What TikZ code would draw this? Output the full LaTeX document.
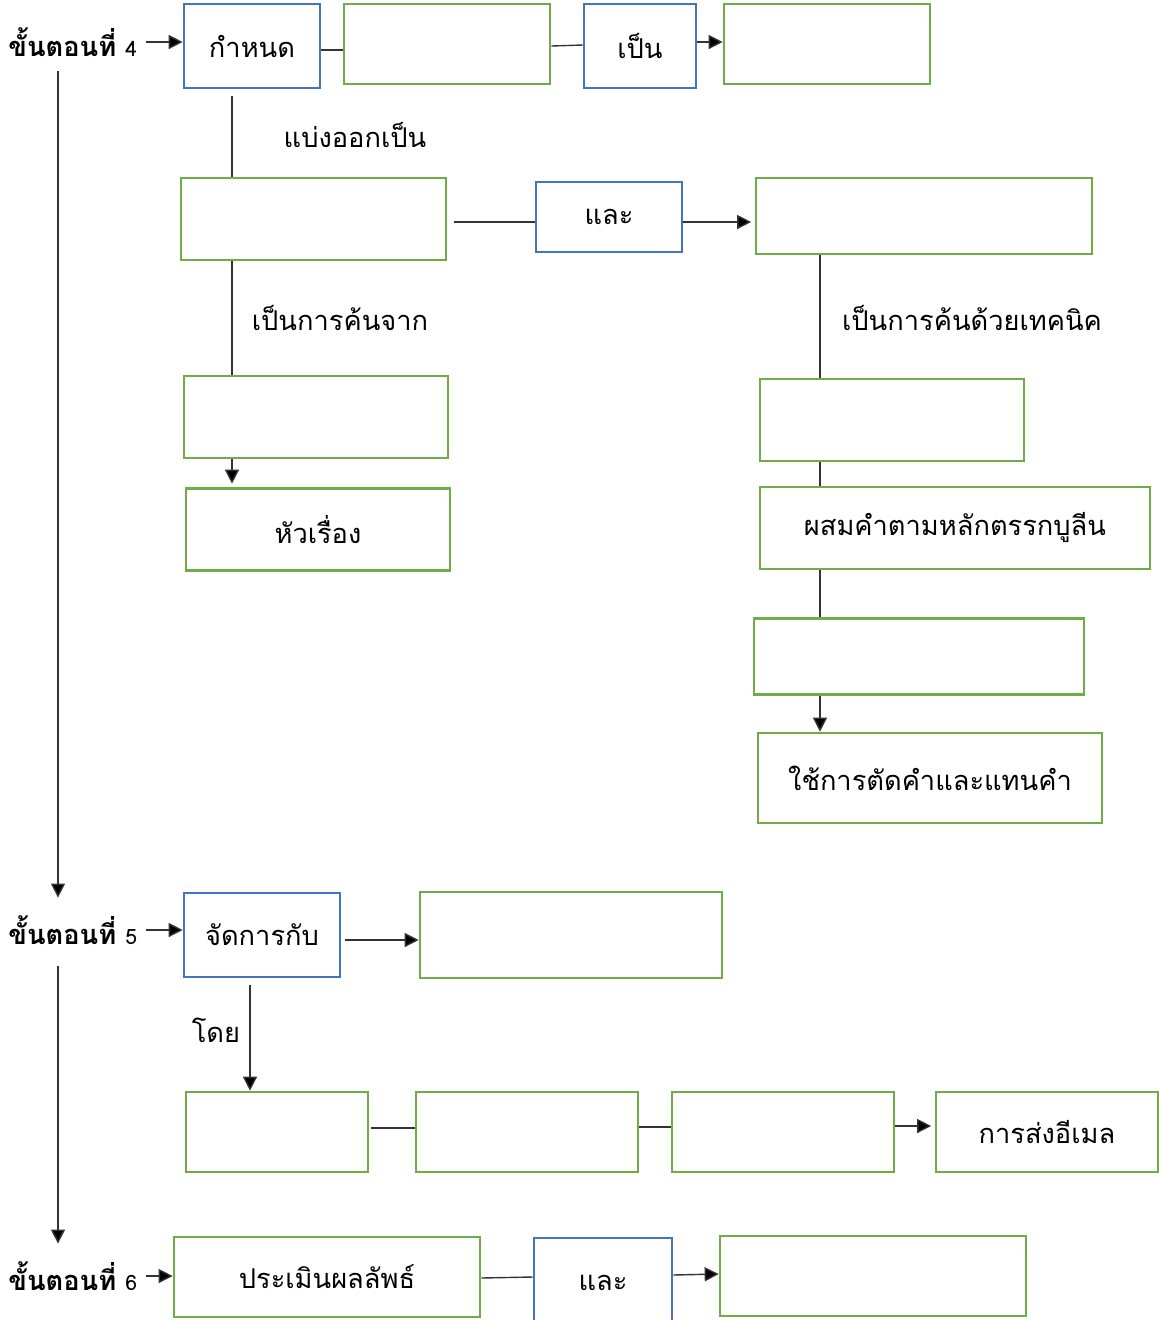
\documentclass[tikz,border=0pt]{standalone}
\usepackage{fontspec}
\usepackage{tikz}
\usetikzlibrary{arrows.meta}
\newfontfamily\thaifont[Script=Thai]{Loma}
\definecolor{boxblue}{HTML}{4472C4}
\definecolor{boxgreen}{HTML}{70AD47}
\tikzset{
  bbox/.style 2 args={draw=boxblue,line width=1.5pt,minimum width=#1*0.02cm,minimum height=#2*0.02cm,inner sep=0pt},
  gbox/.style 2 args={draw=boxgreen,line width=1.5pt,minimum width=#1*0.02cm,minimum height=#2*0.02cm,inner sep=0pt},
  conn/.style={line width=0.8pt,black!80},
  arr/.style={line width=0.8pt,black!80,-{Triangle[length=8pt,width=8pt,fill=black]}},
  lbl/.style={inner sep=0pt}
}
\begin{document}
\begin{tikzpicture}[x=0.02cm,y=-0.02cm,font=\thaifont\fontsize{15.5}{18}\selectfont]
\useasboundingbox (0,0) rectangle (1159,1320);

% columns for the vertical lines
\coordinate (colL) at (58,0);
\coordinate (colA) at (232,0);
\coordinate (colB) at (820,0);
\coordinate (colC) at (250,0);

% step 4
\node[lbl,anchor=west] (s4) at (8,42) {\textbf{ขั้นตอนที่} {\fontsize{12}{14}\selectfont 4}};
\node[bbox={136}{84}] (kamnot) at (252,46) {กำหนด};
\node[gbox={206}{80}] (g1) at (447,44) {};
\node[bbox={112}{84}] (pen) at (640,46) {เป็น};
\node[gbox={206}{80}] (g2) at (827,44) {};

\draw[arr] ([xshift=5pt]s4.east) -- (kamnot.west |- s4.east);
\draw[conn] (kamnot.east |- 0,50) -- (g1.west |- 0,50);
\draw[conn] (g1.east |- 0,46) -- (pen.west |- 0,45);
\draw[arr] (pen.east |- 0,42) -- (g2.west |- 0,42);

\node[gbox={265}{82}] (g3) at (313.5,219) {};
\node[bbox={146}{70}] (lae1) at (609,217) {และ};
\node[gbox={336}{76}] (g4) at (924,216) {};
\draw[conn] ([yshift=-4pt]kamnot.south -| colA) -- (g3.north -| colA);
\node at (355,135) {แบ่งออกเป็น};
\draw[conn] ([xshift=4pt]g3.east |- 0,222) -- (lae1.west |- 0,222);
\draw[arr] (lae1.east |- 0,222) -- ([xshift=-2pt]g4.west |- 0,222);

% left branch
\node[gbox={264}{82}] (g5) at (316,417) {};
\node[gbox={264}{82}] (huarueang) at (318,529.5) {หัวเรื่อง};
\draw[conn] (g3.south -| colA) -- (g5.north -| colA);
\node at (340,318) {เป็นการค้นจาก};
\draw[arr] (g5.south -| colA) -- ([yshift=2pt]huarueang.north -| colA);

% right branch
\node[gbox={264}{82}] (g6) at (892,420) {};
\node[gbox={390}{82}] (phasom) at (955,528) {ผสมคำตามหลักตรรกบูลีน};
\node[gbox={330}{76}] (g7) at (919,656.5) {};
\node[gbox={344}{90}] (chai) at (930,778) {ใช้การตัดคำและแทนคำ};
\draw[conn] (g4.south -| colB) -- (g6.north -| colB);
\node at (972,318) {เป็นการค้นด้วยเทคนิค};
\draw[conn] (g6.south -| colB) -- (phasom.north -| colB);
\draw[conn] (phasom.south -| colB) -- (g7.north -| colB);
\draw[arr] (g7.south -| colB) -- (chai.north -| colB);

% step 5
\node[lbl,anchor=west] (s5) at (8,930) {\textbf{ขั้นตอนที่} {\fontsize{12}{14}\selectfont 5}};
\draw[arr] ([yshift=-8pt]s4.south -| colL) -- ([yshift=10pt]s5.north -| colL);
\node[bbox={156}{84}] (jatkan) at (262,935) {จัดการกับ};
\node[gbox={302}{86}] (g8) at (571,935) {};
\draw[arr] ([xshift=5pt]s5.east) -- (jatkan.west |- s5.east);
\draw[arr] ([xshift=2pt]jatkan.east |- 0,940) -- (g8.west |- 0,940);

\node[gbox={182}{80}] (g9) at (277,1132) {};
\node[gbox={222}{80}] (g10) at (527,1132) {};
\node[gbox={222}{80}] (g11) at (783,1132) {};
\node[gbox={222}{80}] (songemail) at (1047,1132) {การส่งอีเมล};
\draw[arr] ([yshift=-4pt]jatkan.south -| colC) -- (g9.north -| colC);
\node at (216,1030) {โดย};
\draw[conn] ([xshift=1pt]g9.east |- 0,1128) -- (g10.west |- 0,1128);
\draw[conn] (g10.east |- 0,1127) -- (g11.west |- 0,1127);
\draw[arr] (g11.east |- 0,1126) -- ([xshift=-2pt]songemail.west |- 0,1126);

% step 6
\node[lbl,anchor=west] (s6) at (8,1276) {\textbf{ขั้นตอนที่} {\fontsize{12}{14}\selectfont 6}};
\draw[arr] ([yshift=-12pt]s5.south -| colL) -- ([yshift=10pt]s6.north -| colL);
\node[gbox={306}{80}] (pramoen) at (327,1277) {ประเมินผลลัพธ์};
\node[bbox={138}{90}] (lae2) at (603,1283) {และ};
\node[gbox={306}{80}] (g13) at (873,1276) {};
\draw[arr] ([xshift=5pt]s6.east) -- (pramoen.west |- s6.east);
\draw[conn] (pramoen.east |- 0,1278) -- (lae2.west |- 0,1277);
\draw[arr] (lae2.east |- 0,1275) -- (g13.west |- 0,1274);
\end{tikzpicture}
\end{document}
